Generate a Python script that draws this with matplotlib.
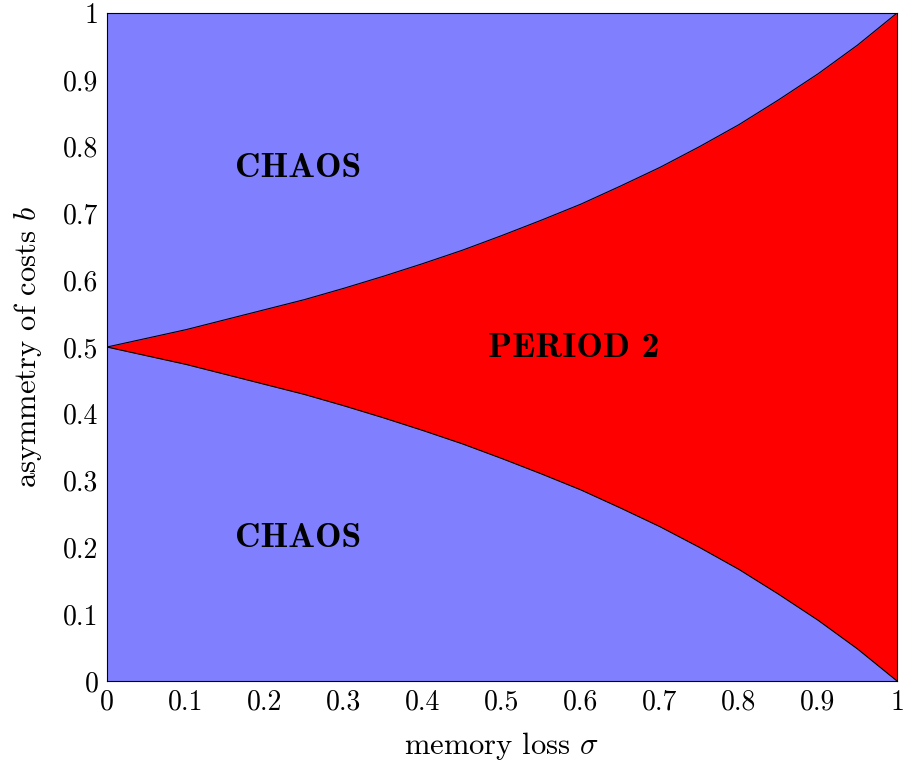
import numpy as np
import matplotlib
matplotlib.use("Agg")
import matplotlib.pyplot as plt

# boundary curves
sigma = [0.0, 0.05, 0.1, 0.15, 0.2, 0.25, 0.3, 0.35, 0.4, 0.45, 0.5,
         0.55, 0.6, 0.65, 0.7, 0.75, 0.8, 0.85, 0.9, 0.95, 1.0]
b_upper = [0.500, 0.513, 0.526, 0.541, 0.556, 0.571, 0.588, 0.606, 0.625, 0.645, 0.667,
           0.690, 0.714, 0.741, 0.769, 0.800, 0.833, 0.870, 0.909, 0.952, 1.000]
b_lower = [0.500, 0.487, 0.474, 0.459, 0.444, 0.429, 0.412, 0.394, 0.375, 0.355, 0.333,
           0.310, 0.286, 0.259, 0.231, 0.200, 0.167, 0.130, 0.091, 0.048, 0.000]

ticks = [0, 0.1, 0.2, 0.3, 0.4, 0.5, 0.6, 0.7, 0.8, 0.9, 1]
tick_labels = ["0", "0.1", "0.2", "0.3", "0.4", "0.5", "0.6", "0.7", "0.8", "0.9", "1"]

plt.rcParams['font.family'] = 'serif'
plt.rcParams['font.serif'] = ['cmr10']
plt.rcParams['mathtext.fontset'] = 'cm'
plt.rcParams['axes.unicode_minus'] = False

fig = plt.figure(figsize=(9.05, 7.67), dpi=100)
ax = fig.add_axes([0.1182, 0.1121, 0.873, 0.8709])

ax.fill_between([0, 1], [0, 0], [1, 1], color='#8080ff', lw=0)
ax.fill_between(sigma, b_lower, b_upper, color='#ff0000', lw=0)
ax.plot(sigma, b_upper, color='black', lw=0.8)
ax.plot(sigma, b_lower, color='black', lw=0.8)

ax.set_xlim(0, 1)
ax.set_ylim(0, 1)
ax.set_xticks(ticks)
ax.set_xticklabels(tick_labels)
ax.set_yticks(ticks)
ax.set_yticklabels(tick_labels)
ax.tick_params(length=0, labelsize=20, pad=6)
for s in ax.spines.values():
    s.set_linewidth(0.8)

ax.set_xlabel(r'memory loss $\sigma$', fontsize=22, labelpad=10)
ax.set_ylabel(r'asymmetry of costs $b$', fontsize=22, labelpad=14)

bold = dict(family='cmb10', fontsize=25.5, ha='center', va='center')
ax.text(0.242, 0.767, 'CHAOS', **bold)
ax.text(0.242, 0.214, 'CHAOS', **bold)
ax.text(0.591, 0.498, 'PERIOD 2', **bold)

fig.savefig('out.png', dpi=100)
